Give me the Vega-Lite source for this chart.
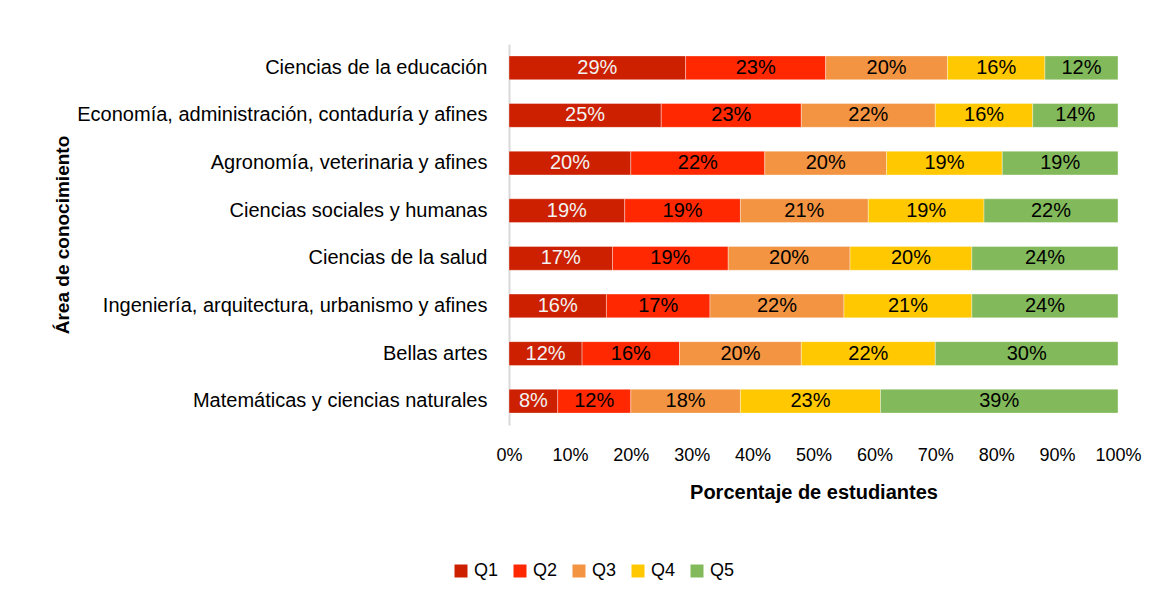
{
  "$schema": "https://vega.github.io/schema/vega-lite/v6.json",
  "width": 609,
  "height": 381,
  "autosize": {"type": "none"},
  "padding": {"left": 509, "top": 44, "right": 48, "bottom": 183},
  "background": "white",
  "config": {
    "view": {"stroke": null},
    "font": "Liberation Sans"
  },
  "data": {
    "values": [
      {"area": "Ciencias de la educación", "q": "Q1", "v": 0.29},
      {"area": "Ciencias de la educación", "q": "Q2", "v": 0.23},
      {"area": "Ciencias de la educación", "q": "Q3", "v": 0.20},
      {"area": "Ciencias de la educación", "q": "Q4", "v": 0.16},
      {"area": "Ciencias de la educación", "q": "Q5", "v": 0.12},
      {"area": "Economía, administración, contaduría y afines", "q": "Q1", "v": 0.25},
      {"area": "Economía, administración, contaduría y afines", "q": "Q2", "v": 0.23},
      {"area": "Economía, administración, contaduría y afines", "q": "Q3", "v": 0.22},
      {"area": "Economía, administración, contaduría y afines", "q": "Q4", "v": 0.16},
      {"area": "Economía, administración, contaduría y afines", "q": "Q5", "v": 0.14},
      {"area": "Agronomía, veterinaria y afines", "q": "Q1", "v": 0.20},
      {"area": "Agronomía, veterinaria y afines", "q": "Q2", "v": 0.22},
      {"area": "Agronomía, veterinaria y afines", "q": "Q3", "v": 0.20},
      {"area": "Agronomía, veterinaria y afines", "q": "Q4", "v": 0.19},
      {"area": "Agronomía, veterinaria y afines", "q": "Q5", "v": 0.19},
      {"area": "Ciencias sociales y humanas", "q": "Q1", "v": 0.19},
      {"area": "Ciencias sociales y humanas", "q": "Q2", "v": 0.19},
      {"area": "Ciencias sociales y humanas", "q": "Q3", "v": 0.21},
      {"area": "Ciencias sociales y humanas", "q": "Q4", "v": 0.19},
      {"area": "Ciencias sociales y humanas", "q": "Q5", "v": 0.22},
      {"area": "Ciencias de la salud", "q": "Q1", "v": 0.17},
      {"area": "Ciencias de la salud", "q": "Q2", "v": 0.19},
      {"area": "Ciencias de la salud", "q": "Q3", "v": 0.20},
      {"area": "Ciencias de la salud", "q": "Q4", "v": 0.20},
      {"area": "Ciencias de la salud", "q": "Q5", "v": 0.24},
      {"area": "Ingeniería, arquitectura, urbanismo y afines", "q": "Q1", "v": 0.16},
      {"area": "Ingeniería, arquitectura, urbanismo y afines", "q": "Q2", "v": 0.17},
      {"area": "Ingeniería, arquitectura, urbanismo y afines", "q": "Q3", "v": 0.22},
      {"area": "Ingeniería, arquitectura, urbanismo y afines", "q": "Q4", "v": 0.21},
      {"area": "Ingeniería, arquitectura, urbanismo y afines", "q": "Q5", "v": 0.24},
      {"area": "Bellas artes", "q": "Q1", "v": 0.12},
      {"area": "Bellas artes", "q": "Q2", "v": 0.16},
      {"area": "Bellas artes", "q": "Q3", "v": 0.20},
      {"area": "Bellas artes", "q": "Q4", "v": 0.22},
      {"area": "Bellas artes", "q": "Q5", "v": 0.30},
      {"area": "Matemáticas y ciencias naturales", "q": "Q1", "v": 0.08},
      {"area": "Matemáticas y ciencias naturales", "q": "Q2", "v": 0.12},
      {"area": "Matemáticas y ciencias naturales", "q": "Q3", "v": 0.18},
      {"area": "Matemáticas y ciencias naturales", "q": "Q4", "v": 0.23},
      {"area": "Matemáticas y ciencias naturales", "q": "Q5", "v": 0.39}
    ]
  },
  "transform": [
    {"stack": "v", "groupby": ["area"], "sort": [{"field": "q", "order": "ascending"}], "as": ["v0", "v1"]},
    {"calculate": "(datum.v0 + datum.v1) / 2", "as": "mid"}
  ],
  "encoding": {
    "y": {
      "field": "area",
      "type": "nominal",
      "sort": [
        "Ciencias de la educación",
        "Economía, administración, contaduría y afines",
        "Agronomía, veterinaria y afines",
        "Ciencias sociales y humanas",
        "Ciencias de la salud",
        "Ingeniería, arquitectura, urbanismo y afines",
        "Bellas artes",
        "Matemáticas y ciencias naturales"
      ],
      "scale": {"paddingInner": 0.5, "paddingOuter": 0.25},
      "axis": {
        "title": "Área de conocimiento",
        "titleFont": "Liberation Sans",
        "titleFontSize": 19,
        "titleFontWeight": "bold",
        "titleColor": "#000000",
        "titleX": -447,
        "titleAngle": -90,
        "titleBaseline": "middle",
        "labelFont": "Liberation Sans",
        "labelFontSize": 20,
        "labelColor": "#000000",
        "labelPadding": 22,
        "labelLimit": 600,
        "ticks": false,
        "tickSize": 0,
        "domainColor": "#D9D9D9",
        "domainWidth": 2,
        "grid": false
      }
    }
  },
  "layer": [
    {
      "mark": {"type": "bar", "stroke": "#FFFFFF", "strokeWidth": 0.6, "strokeOpacity": 0.6},
      "encoding": {
        "x": {
          "field": "v0",
          "type": "quantitative",
          "scale": {"domain": [0, 1], "nice": false},
          "axis": {
            "title": "Porcentaje de estudiantes",
            "titleFont": "Liberation Sans",
            "titleFontSize": 20,
            "titleFontWeight": "bold",
            "titleColor": "#000000",
            "titlePadding": 18,
            "format": ".0%",
            "values": [0, 0.1, 0.2, 0.3, 0.4, 0.5, 0.6, 0.7, 0.8, 0.9, 1],
            "labelFont": "Liberation Sans",
            "labelFontSize": 18,
            "labelColor": "#000000",
            "labelPadding": 21,
            "labelFlush": false,
            "ticks": false,
            "tickSize": 0,
            "domain": false,
            "grid": false
          }
        },
        "x2": {"field": "v1"},
        "color": {
          "field": "q",
          "type": "nominal",
          "scale": {
            "domain": ["Q1", "Q2", "Q3", "Q4", "Q5"],
            "range": ["#CC2000", "#FF2800", "#F29441", "#FFC800", "#82B95A"]
          },
          "legend": {
            "title": null,
            "orient": "none",
            "direction": "horizontal",
            "legendX": -57,
            "legendY": 518,
            "symbolType": "square",
            "symbolSize": 169,
            "symbolStrokeWidth": 0,
            "labelFont": "Liberation Sans",
            "labelFontSize": 18,
            "labelColor": "#000000",
            "labelOffset": 4,
            "columnPadding": 12
          }
        }
      }
    },
    {
      "mark": {"type": "text", "font": "Liberation Sans", "fontSize": 20, "baseline": "middle", "align": "center"},
      "encoding": {
        "x": {"field": "mid", "type": "quantitative"},
        "text": {"field": "v", "type": "quantitative", "format": ".0%"},
        "color": {
          "condition": {"test": "datum.q === 'Q1'", "value": "#F2F2F2"},
          "value": "#000000"
        }
      }
    }
  ]
}
